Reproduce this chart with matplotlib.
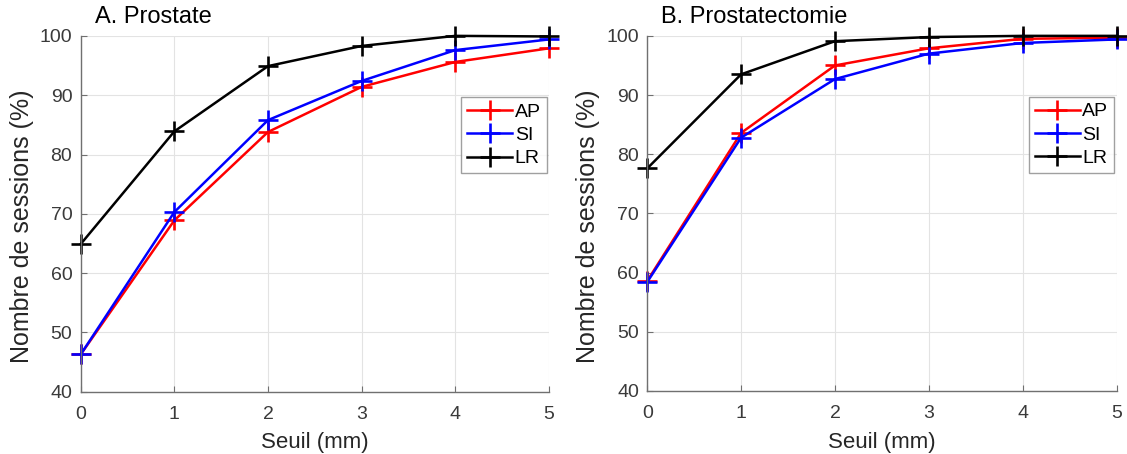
import matplotlib
matplotlib.use("Agg")
import matplotlib.pyplot as plt

plt.rcParams['font.family'] = ['Liberation Sans', 'DejaVu Sans']

seuil = [0, 1, 2, 3, 4, 5]

# A. Prostate
prost_ap = [46.3, 68.9, 83.8, 91.4, 95.6, 97.9]
prost_si = [46.3, 70.3, 85.8, 92.4, 97.6, 99.4]
prost_lr = [64.9, 83.9, 94.9, 98.3, 100.0, 99.9]

# B. Prostatectomie
ptomie_ap = [58.6, 83.6, 95.0, 97.9, 99.5, 99.7]
ptomie_si = [58.4, 82.8, 92.7, 97.0, 98.8, 99.4]
ptomie_lr = [77.6, 93.5, 99.1, 99.8, 100.0, 100.0]

titres = ["A. Prostate", "B. Prostatectomie"]
couleurs = {"AP": "#ff0000", "SI": "#0000ff", "LR": "#000000"}

fig = plt.figure(figsize=(11.27, 4.54), dpi=100)
ax1 = fig.add_axes([0.0716, 0.137, 0.4155, 0.784])
ax2 = fig.add_axes([0.5743, 0.139, 0.4165, 0.782])

donnees = [
    {"AP": prost_ap, "SI": prost_si, "LR": prost_lr},
    {"AP": ptomie_ap, "SI": ptomie_si, "LR": ptomie_lr},
]

for ax, d, titre in zip([ax1, ax2], donnees, titres):
    for nom in ["AP", "SI", "LR"]:
        ax.plot(seuil, d[nom], color=couleurs[nom], lw=1.8, marker='+',
                markersize=14, markeredgewidth=1.9, label=nom, clip_on=False)
    ax.set_xlim(0, 5)
    ax.set_ylim(40, 100)
    ax.set_xticks(seuil)
    ax.set_yticks(range(40, 101, 10))
    ax.grid(True, color='#e3e3e3', lw=0.8)
    ax.set_axisbelow(True)
    for s in ['top', 'right']:
        ax.spines[s].set_visible(False)
    for s in ['left', 'bottom']:
        ax.spines[s].set_color('#707070')
        ax.spines[s].set_linewidth(1.0)
    ax.tick_params(direction='in', length=4, labelsize=14, colors='#707070',
                   labelcolor='#3a3a3a')
    ax.tick_params(axis='x', pad=10)
    ax.tick_params(axis='y', pad=6)
    ax.set_xlabel("Seuil (mm)", fontsize=16, color='#262626', labelpad=7)
    ax.set_ylabel("Nombre de sessions (%)", fontsize=18, color='#262626')
    ax.yaxis.set_label_coords(-0.1, 0.465)
    ax.text(0.03, 1.022, titre, transform=ax.transAxes, fontsize=17, ha='left', va='bottom')
    leg = ax.legend(loc='upper right', bbox_to_anchor=(0.995, 0.828), borderaxespad=0,
                    fontsize=14, frameon=True, fancybox=False, handlelength=2.3,
                    handletextpad=0.15, labelspacing=0.3, borderpad=0.3)
    leg.get_frame().set_edgecolor('#888888')
    leg.get_frame().set_linewidth(1.0)

fig.savefig("out.png", dpi=100)
